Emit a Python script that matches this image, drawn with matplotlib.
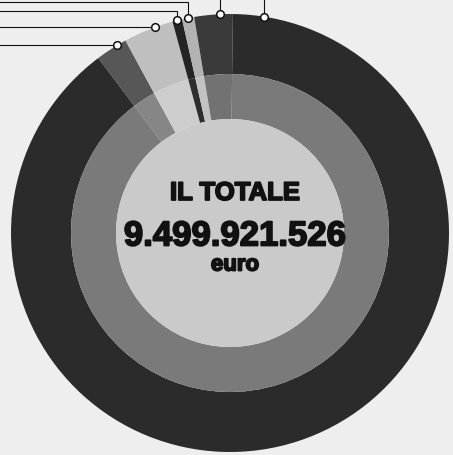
import matplotlib.pyplot as plt
import matplotlib.patheffects as pe
import numpy as np

# fette in senso orario, a partire da quella in alto a sinistra (quote % del totale)
quote = [2.36, 3.69, 0.72, 0.89, 2.83, 89.51]
colori_esterni = ['#575757', '#bfbfbf', '#242424', '#b3b3b3', '#3a3a3a', '#2b2b2b']
colori_interni = ['#868686', '#cdcdcd', '#2e2e2e', '#c2c2c2', '#727272', '#7a7a7a']
# dove cade il pallino del richiamo dentro ogni fetta (0 = inizio, 1 = fine)
pos_richiamo = [0.7, 0.64, 0.5, 0.5, 0.66, 0.025]

titolo = 'IL TOTALE'
totale = '9.499.921.526'
unita = 'euro'

W, H = 453, 455
cx, cy = 230, H - 233
R_est, R_mid, R_int = 219, 159, 114
inizio = -37  # gradi dalle ore 12, senso orario

fig = plt.figure(figsize=(W / 100, H / 100), dpi=100)
fig.patch.set_facecolor('#eeeeee')
ax = fig.add_axes([0, 0, 1, 1])

ax.pie(quote, colors=colori_esterni, radius=R_est, center=(cx, cy),
       startangle=90 - inizio, counterclock=False,
       wedgeprops=dict(width=R_est - R_mid, linewidth=0))
ax.pie(quote, colors=colori_interni, radius=R_mid, center=(cx, cy),
       startangle=90 - inizio, counterclock=False,
       wedgeprops=dict(width=R_mid - R_int, linewidth=0))
ax.add_patch(plt.Circle((cx, cy), R_int, color='#cacaca', lw=0))

# richiami: pallino sul bordo esterno e linea verso il margine
cum = np.concatenate([[0], np.cumsum(quote)]) / sum(quote) * 360
ang = inizio + cum[:-1] + np.array(pos_richiamo) * np.diff(cum)
phi = np.radians(90 - ang)
px = cx + R_est * np.cos(phi)
py = cy + R_est * np.sin(phi)

percorsi = [('sx', None), ('sx', None), ('su_sx', H - 11), ('su_sx', H - 1.5),
            ('su', H), ('su', H)]
for (tipo, liv), x, y in zip(percorsi, px, py):
    if tipo == 'sx':
        ax.plot([0, x], [y, y], color='#111111', lw=0.8, zorder=3)
    elif tipo == 'su_sx':
        ax.plot([0, x, x], [liv, liv, y], color='#111111', lw=0.8, zorder=3)
    else:
        ax.plot([x, x], [liv, y], color='#111111', lw=0.8, zorder=3)
ax.plot(px, py, 'o', ms=5.5, mfc='white', mec='#111111', mew=1.1, zorder=5)

font = ['Liberation Sans', 'DejaVu Sans']
spesso = [pe.withStroke(linewidth=1.3, foreground='#111111')]
ax.text(235, H - 193, titolo, ha='center', va='center', fontsize=18.5,
        fontweight='bold', family=font, color='#111111', path_effects=spesso)
ax.text(235, H - 236, totale, ha='center', va='center', fontsize=25,
        fontweight='bold', family=font, color='#111111', path_effects=spesso)
ax.text(235, H - 265, unita, ha='center', va='center', fontsize=16,
        fontweight='bold', family=font, color='#111111', path_effects=spesso)

ax.set_xlim(0, W)
ax.set_ylim(0, H)
ax.set_aspect('equal')
ax.axis('off')

fig.savefig('out.png', dpi=100, facecolor=fig.get_facecolor())
